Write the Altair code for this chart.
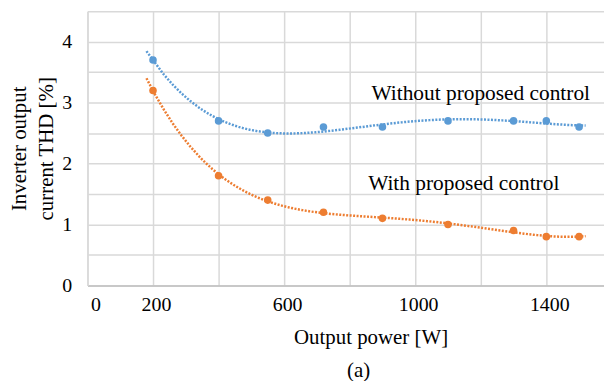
import altair as alt
import pandas as pd

POWER = [200, 400, 550, 720, 900, 1100, 1300, 1400, 1500]
THD_WITHOUT = [3.7, 2.7, 2.5, 2.6, 2.6, 2.7, 2.7, 2.7, 2.6]
THD_WITH = [3.2, 1.8, 1.4, 1.2, 1.1, 1.0, 0.9, 0.8, 0.8]
SERIES = ["Without proposed control", "With proposed control"]
COLORS = ["#5B9BD5", "#ED7D31"]
LABEL_X = [1200, 1148]
LABEL_Y = [3.04, 1.56]
X_GRID = [0, 200, 400, 600, 800, 1000, 1200, 1400]
X_LABELS = [0, 200, 600, 1000, 1400]
Y_GRID = [0, 0.5, 1, 1.5, 2, 2.5, 3, 3.5, 4, 4.5]
Y_LABELS = [0, 1, 2, 3, 4]

rows = []
for s, vals in zip(SERIES, [THD_WITHOUT, THD_WITH]):
    for p, v in zip(POWER, vals):
        rows.append({"series": s, "power": p, "thd": v})
df = pd.DataFrame(rows)
lab = pd.DataFrame({"series": SERIES, "power": LABEL_X, "thd": LABEL_Y})

FONT = "Liberation Serif"

x_axis = alt.Axis(
    values=X_GRID,
    labelExpr=f"indexof({X_LABELS}, datum.value) >= 0 ? format(datum.value, 'd') : ''",
    ticks=False, domainColor="#BFBFBF", domainWidth=1.5,
    gridColor="#D9D9D9", gridWidth=1.5,
    labelFont=FONT, labelFontSize=20, labelColor="black", labelPadding=9, labelOffset=3,
    title="Output power [W]", titleFont=FONT, titleFontSize=21, titleFontWeight="normal",
    titleColor="black", titleX=285, titleY=59, titleAlign="center", titleBaseline="alphabetic",
)
y_axis = alt.Axis(
    values=Y_GRID,
    labelExpr=f"indexof({Y_LABELS}, datum.value) >= 0 ? format(datum.value, 'd') : ''",
    ticks=False, domainColor="#D9D9D9", domainWidth=1.5,
    gridColor="#D9D9D9", gridWidth=1.5,
    labelFont=FONT, labelFontSize=20, labelColor="black", labelPadding=16,
    title=["Inverter output", "current THD [%]"], titleFont=FONT, titleFontSize=21,
    titleFontWeight="normal", titleColor="black", titleAngle=270, titleX=-62, titleY=138,
    titleAlign="center", titleBaseline="alphabetic", titleLineHeight=27,
)

X = alt.X("power:Q", scale=alt.Scale(domain=[0, 1576], nice=False, zero=False), axis=x_axis)
Y = alt.Y("thd:Q", scale=alt.Scale(domain=[0, 4.5], nice=False), axis=y_axis)
C = alt.Color("series:N", scale=alt.Scale(domain=SERIES, range=COLORS), legend=None)

base = alt.Chart(df)
trend = base.transform_regression(
    "power", "thd", method="poly", order=4, extent=[180, 1520], groupby=["series"]
).mark_line(strokeDash=[2, 1.5], strokeWidth=2.5, strokeCap="butt").encode(x=X, y=Y, color=C)
points = base.mark_point(filled=True, shape="circle", size=58, opacity=1).encode(x=X, y=Y, color=C)
texts = alt.Chart(lab).mark_text(
    font=FONT, fontSize=21.5, align="center", baseline="alphabetic", color="black"
).encode(x=X, y=Y, text="series:N")

chart = alt.layer(trend, points, texts).properties(
    width=520, height=276,
    padding={"left": 80, "top": 2, "right": 0, "bottom": 95},
    autosize=alt.AutoSizeParams(type="none"),
    title=alt.TitleParams("(a)", orient="bottom", font=FONT, fontSize=21, fontWeight="normal",
                          color="black", anchor="middle", dx=13, offset=12),
).configure_view(stroke=None)

chart.save("out.html", embed_options={"renderer": "svg", "actions": False})
